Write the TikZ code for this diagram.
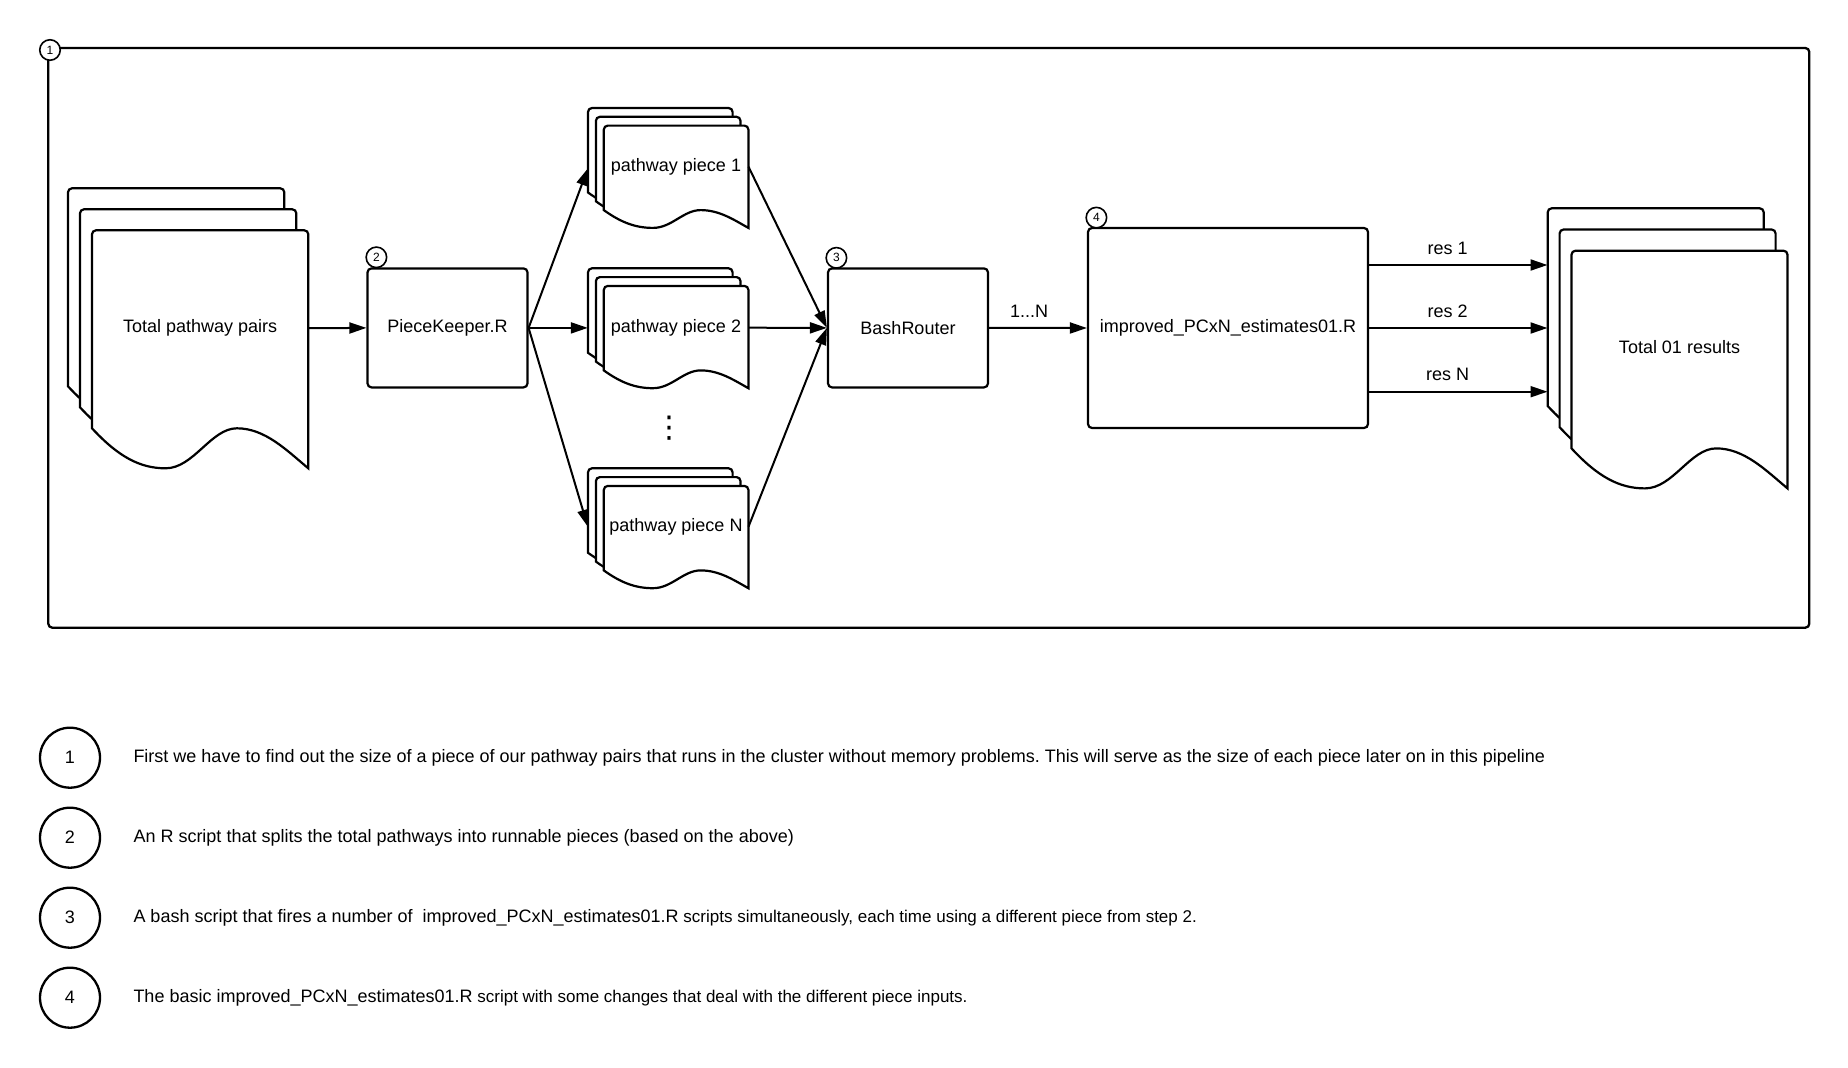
\documentclass[tikz,border=0pt]{standalone}
\usepackage{fontspec}
\setmainfont{Liberation Sans}
\newfontfamily\symfont{DejaVu Sans}
\usetikzlibrary{arrows.meta}

% one document sheet: left, top, width, height, wave amplitude
\newcommand\mysheet[5]{%
  \filldraw[sheetline] ({#1},{#2+#4-#5}) [rounded corners=4pt] -- ({#1},{#2}) -- ({#1+#3},{#2}) [sharp corners] -- ({#1+#3},{#2+#4})
   .. controls ({#1+0.9*#3},{#2+#4-0.45*#5}) and ({#1+0.8*#3},{#2+#4-#5}) .. ({#1+0.67*#3},{#2+#4-#5})
   .. controls ({#1+0.55*#3},{#2+#4-#5}) and ({#1+0.47*#3},{#2+#4}) .. ({#1+0.34*#3},{#2+#4})
   .. controls ({#1+0.22*#3},{#2+#4}) and ({#1+0.12*#3},{#2+#4-0.3*#5}) .. ({#1},{#2+#4-#5}) -- cycle;
}
% stack of three sheets: left, top, width, height, amplitude, dx, dy
\newcommand\mystack[7]{%
  \mysheet{#1}{#2}{#3}{#4}{#5}
  \mysheet{#1+#6}{#2+#7}{#3}{#4}{#5}
  \mysheet{#1+2*#6}{#2+2*#7}{#3}{#4}{#5}
}

\tikzset{
  sheetline/.style={draw=black, fill=white, line width=2.2pt},
  procbox/.style={draw=black, line width=2.2pt, rounded corners=4pt, minimum width=160pt, minimum height=119pt, inner sep=0pt},
  lbl/.style={inner sep=0pt, minimum height=14pt},
  hit/.style={inner sep=0pt, minimum height=2pt},
  arr/.style={line width=2pt, -{Triangle[length=17pt,width=11pt]}},
  tagsm/.style={circle, draw=black, line width=1.6pt, fill=white, minimum size=20.5pt, inner sep=0pt, font=\fontsize{12}{12}\selectfont},
  tagbig/.style={circle, draw=black, line width=2.3pt, minimum size=60pt, inner sep=0pt},
  desc/.style={anchor=base west, inner sep=0pt},
  reslbl/.style={inner sep=0pt}
}

\begin{document}
\frenchspacing
\begin{tikzpicture}[x=1pt, y=-1pt, font=\fontsize{18}{22}\selectfont]
\useasboundingbox (0,0) rectangle (1848,1068);

% outer frame
\node[draw=black, line width=2.3pt, rounded corners=4pt, minimum width=1761pt, minimum height=579.7pt, inner sep=0pt] (frame) at (928.8,337.85) {};

% total pathway pairs
\mystack{68}{188.3}{216.3}{238}{40}{12}{21}
\node[lbl, minimum width=216.3pt] (tot) at (200.15,328.2) {Total pathway pairs};

% PieceKeeper
\node[procbox] (pk) at (447.5,327.9) {PieceKeeper.R};

% pathway pieces
\mystack{588}{108}{144.6}{102.3}{17.8}{7.9}{8.8}
\mystack{588}{268.3}{144.6}{102.3}{17.8}{7.9}{8.8}
\mystack{588}{468.3}{144.6}{102.3}{17.8}{7.9}{8.8}
\node[lbl, minimum width=144.6pt] (p1) at (676,166.7) {pathway piece 1};
\node[lbl, minimum width=144.6pt] (p2) at (676,327.7) {pathway piece 2};
\node[lbl, minimum width=144.6pt] (pN) at (676,526.7) {pathway piece N};
\node[hit, minimum width=160.3pt] (s1) at (668.15,168.5) {};
\node[hit, minimum width=160.3pt] (s2) at (668.15,327.9) {};
\node[hit, minimum width=160.3pt] (sN) at (668.15,526.7) {};
\node[inner sep=0pt, font=\symfont\fontsize{30}{30}\selectfont] (dots) at (669,428) {⋮};

% BashRouter
\node[procbox] (br) at (908,327.9) {BashRouter};

% improved script
\node[procbox, minimum width=280pt, minimum height=200pt] (imp) at (1228,328) {improved\_PCxN\_estimates01.R};

% total 01 results
\mystack{1547.7}{208.3}{216}{237.7}{40}{11.9}{21.2}
\node[lbl, minimum width=216pt] (res) at (1679.5,347.3) {Total 01 results};
\node[hit, minimum width=239.8pt] (rstk) at (1667.6,328) {};

% connectors
\draw[arr] (tot.east) -- (pk.west);
\draw[arr] (pk.east) -- (s1.west);
\draw[arr] (pk.east) -- (s2.west);
\draw[arr] (pk.east) -- (sN.west);
\draw[arr] (p1.east) -- (br.west);
\draw[arr] (p2.east) -- (br.west);
\draw[arr] (pN.east) -- (br.west);
\draw[arr] (br.east) -- node[reslbl, pos=0.41, yshift=17pt] {1...N} (imp.west);
\draw[arr] (imp.east) ++(0,-63) coordinate (r1s) -- node[reslbl, pos=0.44, yshift=17pt] {res 1} (r1s -| rstk.west);
\draw[arr] (imp.east) coordinate (r2s) -- node[reslbl, pos=0.44, yshift=17pt] {res 2} (r2s -| rstk.west);
\draw[arr] (imp.east) ++(0,63.7) coordinate (r3s) -- node[reslbl, pos=0.44, yshift=17pt] {res N} (r3s -| rstk.west);

% step tags
\node[tagsm] (t1) at (50,50) {1};
\node[tagsm] (t2) at ([xshift=10pt,yshift=10pt]pk.north west) {2};
\node[tagsm] (t3) at ([xshift=9.5pt,yshift=9.5pt]br.north west) {3};
\node[tagsm] (t4) at ([xshift=9.5pt,yshift=9.3pt]imp.north west) {4};

% legend
\node[tagbig] (d1) at (70,757.7) {1};
\node[tagbig] (d2) at (70,837.7) {2};
\node[tagbig] (d3) at (70,917.7) {3};
\node[tagbig] (d4) at (70,997.7) {4};
\node[desc] (e1) at (133.3,762.3) {First we have to find out the size of a piece of our pathway pairs that runs in the cluster without memory problems. This will serve as the size of each piece later on in this pipeline};
\node[desc] (e2) at (133.3,842.3) {An R script that splits the total pathways into runnable pieces (based on the above)};
\node[desc] (e3) at (133.3,922.3) {A bash script that fires a number of \ improved\_PCxN\_estimates01.R{\fontsize{17}{20}\selectfont{} scripts simultaneously, each time using a different piece from step 2.}};
\node[desc] (e4) at (133.3,1002.3) {The basic improved\_PCxN\_estimates01.R{\fontsize{17}{20}\selectfont{} script with some changes that deal with the different piece inputs.}};
\end{tikzpicture}
\end{document}
